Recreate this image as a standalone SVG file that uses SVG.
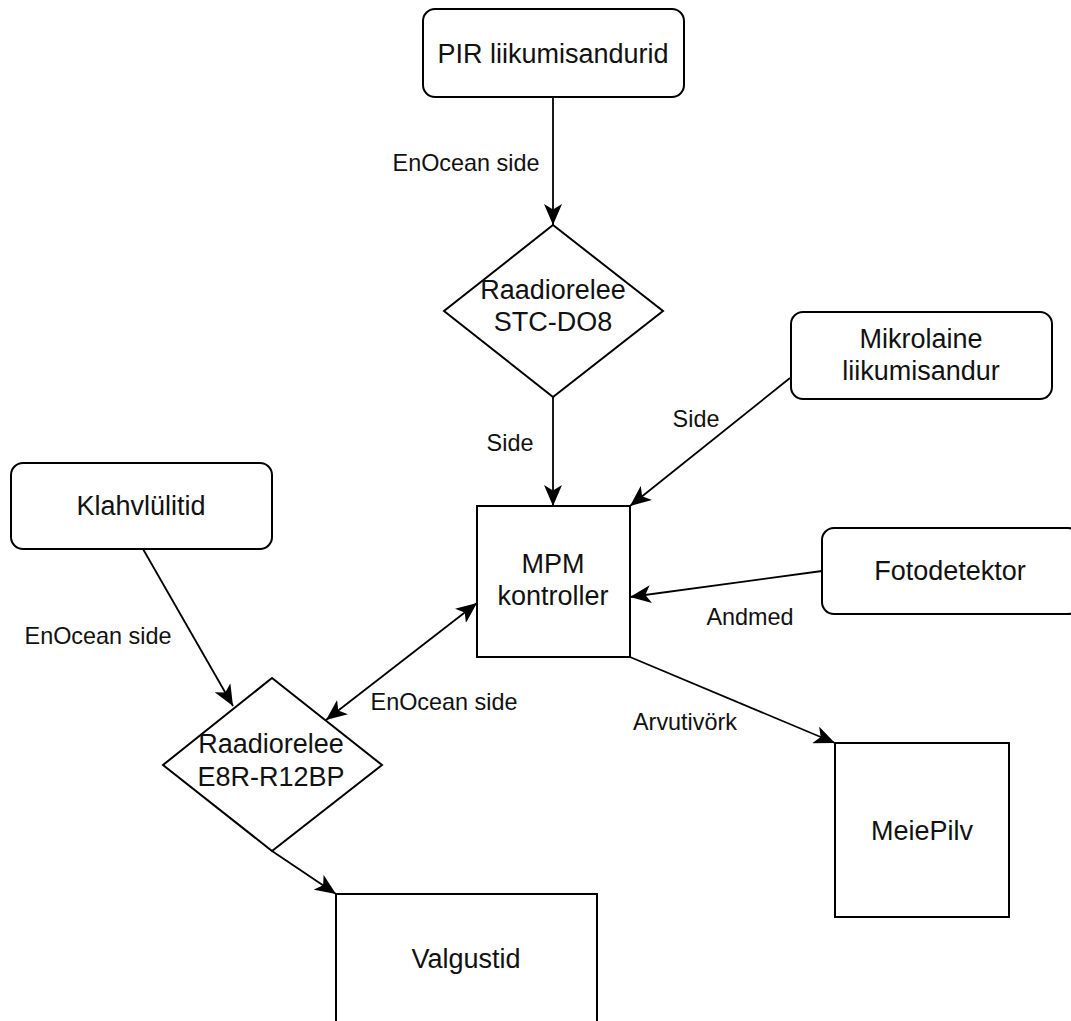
<svg xmlns="http://www.w3.org/2000/svg" width="1071" height="1021" viewBox="0 0 1071 1021">
  <defs>
    <style>
      .shape { fill: #ffffff; stroke: #000000; stroke-width: 2; }
      .edge { fill: none; stroke: #000000; stroke-width: 1.8; }
      .label { font-family: "Liberation Sans", Arial, Helvetica, sans-serif; font-size: 27px; fill: #111111; text-anchor: middle; }
      .elabel { font-family: "Liberation Sans", Arial, Helvetica, sans-serif; font-size: 23.4px; fill: #111111; text-anchor: middle; }
    </style>
    <marker id="arrow" markerUnits="userSpaceOnUse" markerWidth="21" markerHeight="18" refX="21" refY="9" orient="auto-start-reverse" viewBox="0 0 21 18">
      <path d="M21,9 L0,0 L5.5,9 L0,18 Z" fill="#000000"/>
    </marker>
  </defs>
  <rect width="1071" height="1021" fill="#ffffff"/>

  <!-- connectors -->
  <g id="connectors">
    <line class="edge" x1="553" y1="97" x2="553" y2="225" marker-end="url(#arrow)"/>
    <line class="edge" x1="553" y1="397" x2="553" y2="506" marker-end="url(#arrow)"/>
    <line class="edge" x1="790" y1="378" x2="630" y2="506" marker-end="url(#arrow)"/>
    <line class="edge" x1="822" y1="571" x2="630" y2="597" marker-end="url(#arrow)"/>
    <line class="edge" x1="477" y1="603" x2="326" y2="720" marker-start="url(#arrow)" marker-end="url(#arrow)"/>
    <line class="edge" x1="143" y1="549" x2="233" y2="706" marker-end="url(#arrow)"/>
    <line class="edge" x1="630" y1="657" x2="835" y2="743" marker-end="url(#arrow)"/>
    <line class="edge" x1="272" y1="851" x2="336" y2="894" marker-end="url(#arrow)"/>

    <text class="elabel" x="466" y="171">EnOcean side</text>
    <text class="elabel" x="510" y="451">Side</text>
    <text class="elabel" x="696" y="427">Side</text>
    <text class="elabel" x="98" y="644">EnOcean side</text>
    <text class="elabel" x="444" y="710">EnOcean side</text>
    <text class="elabel" x="750" y="625">Andmed</text>
    <text class="elabel" x="685" y="730">Arvutivörk</text>
  </g>

  <!-- nodes -->
  <g id="pir">
    <rect class="shape" x="423" y="9" width="261" height="88" rx="12" ry="12"/>
    <text class="label" x="553" y="63">PIR liikumisandurid</text>
  </g>
  <g id="relay-stc">
    <polygon class="shape" points="553,225 663,311 553,397 444,311"/>
    <text class="label" x="553" y="299">Raadiorelee</text>
    <text class="label" x="553" y="331">STC-DO8</text>
  </g>
  <g id="microwave">
    <rect class="shape" x="791" y="312" width="261" height="87" rx="12" ry="12"/>
    <text class="label" x="921" y="348">Mikrolaine</text>
    <text class="label" x="921" y="380">liikumisandur</text>
  </g>
  <g id="switches">
    <rect class="shape" x="11" y="463" width="261" height="86" rx="12" ry="12"/>
    <text class="label" x="141" y="515">Klahvlülitid</text>
  </g>
  <g id="mpm">
    <rect class="shape" x="477" y="506" width="153" height="151"/>
    <text class="label" x="553" y="573">MPM</text>
    <text class="label" x="553" y="605">kontroller</text>
  </g>
  <g id="photodetector">
    <rect class="shape" x="822" y="528" width="258" height="86" rx="12" ry="12"/>
    <text class="label" x="950" y="580">Fotodetektor</text>
  </g>
  <g id="relay-e8r">
    <polygon class="shape" points="272,678 382,765 272,851 163,765"/>
    <text class="label" x="271" y="753">Raadiorelee</text>
    <text class="label" x="271" y="786">E8R-R12BP</text>
  </g>
  <g id="cloud">
    <rect class="shape" x="835" y="743" width="174" height="174"/>
    <text class="label" x="922" y="840">MeiePilv</text>
  </g>
  <g id="lights">
    <rect class="shape" x="336" y="894" width="261" height="150"/>
    <text class="label" x="466" y="968">Valgustid</text>
  </g>
</svg>
